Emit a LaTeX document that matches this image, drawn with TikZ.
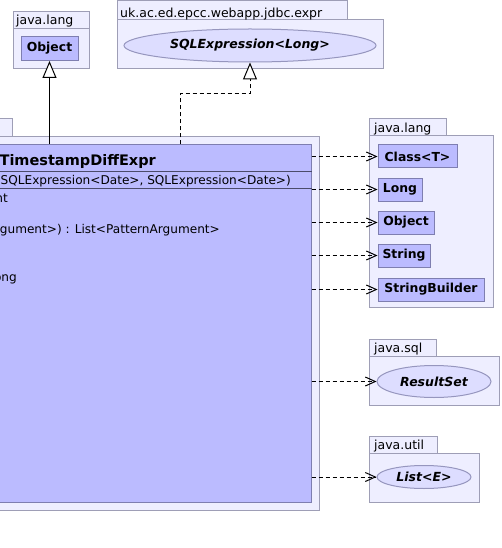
\documentclass[tikz,border=0pt]{standalone}
\usepackage{fontspec}
\setmainfont{DejaVu Sans}
\usetikzlibrary{arrows.meta,shapes.geometric}
\definecolor{pkfill}{RGB}{238,238,255}
\definecolor{pkdraw}{RGB}{158,158,182}
\definecolor{clfill}{RGB}{187,187,255}
\definecolor{cldraw}{RGB}{126,126,176}
\definecolor{elfill}{RGB}{221,221,255}
\definecolor{eldraw}{RGB}{150,150,190}
\begin{document}
\begin{tikzpicture}[x=1pt,y=-1pt,
  pkg/.style={fill=pkfill,draw=pkdraw,line width=1pt},
  pklabel/.style={anchor=base west,inner sep=0pt,font=\fontsize{12.5}{14}\selectfont},
  clsbox/.style={rectangle,fill=clfill,draw=cldraw,line width=1pt,inner sep=0pt,
    minimum height=23pt,font=\fontsize{12.4}{14}\selectfont\bfseries},
  itf/.style={ellipse,fill=elfill,draw=eldraw,line width=1pt,inner sep=0pt,
    font=\fontsize{12.5}{14}\selectfont\bfseries\itshape},
  member/.style={anchor=base east,inner sep=0pt,font=\fontsize{12.1}{14}\selectfont},
  inh/.style={line width=1pt,-{Triangle[open,length=17pt,width=14pt,fill=white]}},
  dep/.style={line width=1pt,dash pattern=on 4pt off 3pt,-{Straight Barb[length=10pt,width=9pt]}},
  real/.style={line width=1pt,dash pattern=on 4pt off 3pt,-{Triangle[open,length=17pt,width=14pt,fill=white]}}]
\useasboundingbox (0,0) rectangle (501,548);
\fill[white] (0,0) rectangle (501,548);

% package java.lang (top left)
\draw[pkg] (13,12) rectangle (89,29);
\draw[pkg] (13,29) rectangle (89,69);
\node[pklabel] (l1) at (16,25) {java.lang};
\node[clsbox,minimum width=57pt,minimum height=24pt] (obj1) at (49.5,48.5) {Object};

% package uk.ac.ed.epcc.webapp.jdbc.expr
\draw[pkg] (117,1) rectangle (347,20);
\draw[pkg] (117,20) rectangle (383,69);
\node[pklabel] (l2) at (120,17.5) {uk.ac.ed.epcc.webapp.jdbc.expr};
\node[itf,minimum width=252pt,minimum height=33pt] (sqle) at (250,45.5) {SQLExpression<Long>};

% main package and class
\draw[pkg] (-5,119) rectangle (12,137);
\draw[pkg] (-5,137) rectangle (319,510);
\node[rectangle,fill=clfill,draw=cldraw,line width=1pt,minimum width=316pt,minimum height=357pt,inner sep=0pt] (mc) at (153,323.5) {};
\draw[cldraw!60!black,line width=1pt] (-5,171) -- (mc.east |- 0,171);
\draw[cldraw!60!black,line width=1pt] (-5,188) -- (mc.east |- 0,188);
\node[anchor=base east,inner sep=0pt,font=\fontsize{14.5}{16}\selectfont\bfseries] (title) at (156,165) {TimestampDiffExpr};
\node[member] (ctor) at (291,184) {SQLExpression<Date>, SQLExpression<Date>)};
\node[member] (m1) at (8,202.5) {nt};
\node[member] (m3) at (220,233.5) {gument>) : List<PatternArgument>};
\node[member] (m6) at (17,281.5) {ong};

% package java.lang (right)
\draw[pkg] (369,119) rectangle (446,136);
\draw[pkg] (369,136) rectangle (493,307);
\node[pklabel] (l3) at (374,132.5) {java.lang};
\node[clsbox,minimum width=79pt] (cls) at (417.5,156.5) {Class<T>};
\node[clsbox,minimum width=44pt] (lng) at (400,189.5) {Long};
\node[clsbox,minimum width=56pt] (obj2) at (406,222.5) {Object};
\node[clsbox,minimum width=52pt] (str) at (404,255.5) {String};
\node[clsbox,minimum width=106pt] (sb) at (431,289.5) {StringBuilder};

% package java.sql
\draw[pkg] (369,339) rectangle (436,356);
\draw[pkg] (369,356) rectangle (499,405);
\node[pklabel] (l4) at (374,352.5) {java.sql};
\node[itf,minimum width=114pt,minimum height=32pt] (rs) at (434,381.5) {ResultSet};

% package java.util
\draw[pkg] (369,436) rectangle (437,453);
\draw[pkg] (369,453) rectangle (479,502);
\node[pklabel] (l5) at (374,449.5) {java.util};
\node[itf,minimum width=94pt,minimum height=23pt] (lst) at (424,477) {List<E>};

% connectors
\draw[inh] (obj1.south |- mc.north) -- (obj1.south);
\coordinate (r1) at (180,94);
\draw[real] (r1 |- mc.north) -- (r1) -| (sqle.south);
\draw[dep] (cls.west -| mc.east) -- (cls.west);
\draw[dep] (lng.west -| mc.east) -- (lng.west);
\draw[dep] (obj2.west -| mc.east) -- (obj2.west);
\draw[dep] (str.west -| mc.east) -- (str.west);
\draw[dep] (sb.west -| mc.east) -- (sb.west);
\draw[dep] (rs.west -| mc.east) -- (rs.west);
\draw[dep] (lst.west -| mc.east) -- (lst.west);
\end{tikzpicture}
\end{document}
